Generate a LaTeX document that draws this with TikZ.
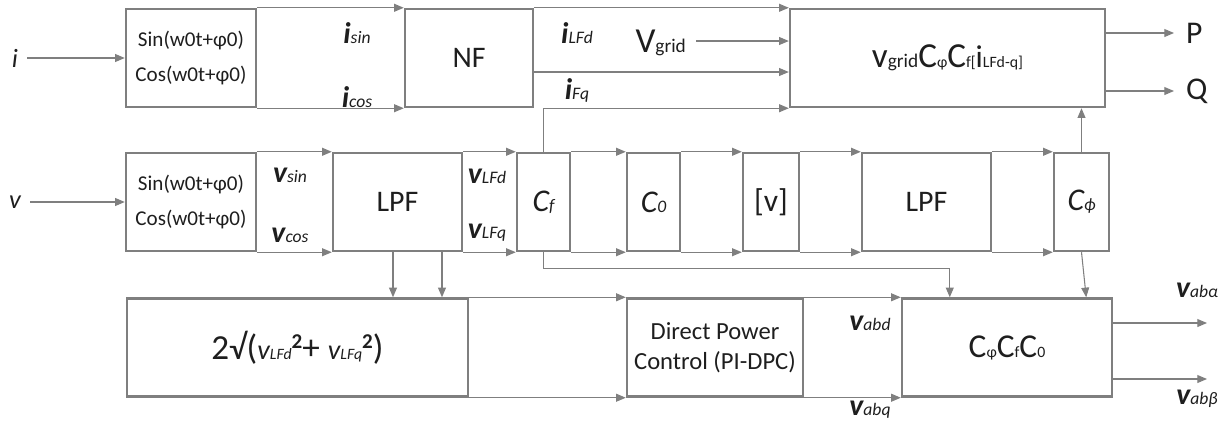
\documentclass[tikz,border=0pt]{standalone}
\usepackage{fontspec}
\setmainfont{Carlito}
\usetikzlibrary{arrows.meta}

\definecolor{lgray}{RGB}{127,127,127}
\definecolor{txt}{RGB}{30,30,30}
\newcommand{\fs}[1]{\fontsize{#1}{#1}\selectfont}
% signal label: big italic letter, small italic index on the same baseline
\newcommand{\sig}[2]{{\fs{17}\itshape\bfseries #1}{\fs{10}\itshape #2}}
\newcommand{\sq}{\raisebox{6pt}{\fs{12}\bfseries 2}}

\begin{document}
\begin{tikzpicture}[x=0.02cm,y=-0.02cm,
  blk/.style={draw=lgray, line width=1.4pt, minimum height=1.96cm, inner sep=0pt, text=txt, align=center},
  conn/.style={draw=lgray, line width=0.6pt, -{Triangle[length=5.5pt,width=4.5pt]}},
  lbl/.style={inner sep=1pt, text=txt}]
  \useasboundingbox (0,0) rectangle (1227,424);

  % top row
  \node[blk, minimum width=2.6cm, font=\fontsize{12}{20}\selectfont] (isc) at (191,58) {Sin(w0t+φ0)\\Cos(w0t+φ0)};
  \node[blk, minimum width=2.56cm] (nf) at (469,58) {\fs{17}NF};
  \node[blk, minimum width=6.3cm] (pq) at (947.5,58)
    {{\fs{20}v}{\fs{11}grid}{\fs{20}C}{\fs{9}φ}{\fs{20}C}{\fs{9}f[}{\fs{18}i}{\fs{9}LFd-q]}};

  % middle row
  \node[blk, minimum width=2.6cm, font=\fontsize{12}{20}\selectfont] (vsc) at (191,202) {Sin(w0t+φ0)\\Cos(w0t+φ0)};
  \node[blk, minimum width=2.58cm] (lpfa) at (397.5,202) {\fs{17}LPF};
  \node[blk, minimum width=1.06cm] (cf) at (543.5,202) {{\fs{18}\itshape C}{\fs{10}\itshape f}};
  \node[blk, minimum width=1.06cm] (co) at (653.5,202) {{\fs{18}\itshape C}{\fs{10}\itshape 0}};
  \node[blk, minimum width=1.12cm] (vv) at (771,202) {\fs{18}[v]};
  \node[blk, minimum width=2.58cm] (lpfb) at (926.5,202) {\fs{17}LPF};
  \node[blk, minimum width=1.1cm] (cphi) at (1081.5,202) {{\fs{18}\itshape C}{\fs{10}\itshape ϕ}};

  % bottom row
  \node[blk, minimum width=6.82cm] (sqrt) at (297.5,347.5)
    {{\fs{20}2√(}{\fs{16}\itshape v}{\fs{9}\itshape LFd}\sq{\fs{20}+ }{\fs{16}\itshape v}{\fs{9}\itshape LFq}\sq{\fs{20})}};
  \node[blk, minimum width=3.52cm, font=\fontsize{14}{17}\selectfont] (dpc) at (715,347.5) {Direct Power\\Control (PI-DPC)};
  \node[blk, minimum width=4.2cm] (cmb) at (1007,347.5)
    {{\fs{19}C}{\fs{9}φ}{\fs{19}C}{\fs{9}f}{\fs{19}C}{\fs{9}0}};

  % inputs and labels
  \node[lbl] (iin) at (15,58) {\fs{15}\itshape i};
  \node[lbl] (vin) at (15,202) {\fs{15}\itshape v};
  \node[lbl] (isin) at (357,33) {\sig{i}{sin}};
  \node[lbl] (icos) at (357,97) {\sig{i}{cos}};
  \node[lbl] (ilfd) at (577,33) {\sig{i}{LFd}};
  \node[lbl] (ifq) at (577,90) {\sig{i}{Fq}};
  \node[lbl, anchor=east] (vg) at (688,43) {{\fs{20}V}{\fs{11}grid}};
  \node[lbl] (vsin) at (290,175) {\sig{v}{sin}};
  \node[lbl] (vcos) at (290,235) {\sig{v}{cos}};
  \node[lbl] (vlfd) at (487,176) {\sig{v}{LFd}};
  \node[lbl] (vlfq) at (487,233) {\sig{v}{LFq}};
  \node[lbl] (vabd) at (870,323) {\sig{v}{abd}};
  \node[lbl] (vabq) at (870,410) {\sig{v}{abq}};
  \node[lbl] (vaba) at (1197,290) {\sig{v}{abα}};
  \node[lbl] (vabb) at (1197,399) {\sig{v}{abβ}};
  \node[lbl, anchor=west] (P) at (1184,33) {\fs{18}P};
  \node[lbl, anchor=west] (Q) at (1184,91) {\fs{18}Q};

  % block to block, upper and lower edge
  \foreach \a/\b in {isc/nf, vsc/lpfa, lpfa/cf, cf/co, co/vv, vv/lpfb, lpfb/cphi, sqrt/dpc, dpc/cmb} {
    \draw[conn] (\a.north east) -- (\b.north west);
    \draw[conn] (\a.south east) -- (\b.south west);
  }
  \draw[conn] (nf.north east) -- (pq.north west);
  \coordinate (nfo) at ([yshift=-0.28cm]nf.east);
  \draw[conn] (nfo) -- (nfo -| pq.west);
  \draw[conn] ([xshift=0.16cm,yshift=0.04cm]vg.east) -- ([yshift=0.04cm]vg.east -| pq.west);
  \draw[conn] (cf.north) |- (pq.south west);
  \draw[conn] (cphi.north) -- (cphi.north |- pq.south);
  \coordinate (pe) at ([xshift=-0.2cm]P.west);
  \coordinate (qe) at ([xshift=-0.2cm]Q.west);
  \draw[conn] (pe -| pq.east) -- (pe);
  \draw[conn] (qe -| pq.east) -- (qe);

  \draw[conn, shorten <=4pt] (iin.east) -- (isc.west);
  \draw[conn, shorten <=4pt] (vin.east) -- (vsc.west);

  \coordinate (la) at ([xshift=-0.09cm]lpfa.south);
  \coordinate (lb) at ([xshift=0.89cm]lpfa.south);
  \draw[conn] (la) -- (la |- sqrt.north);
  \draw[conn] (lb) -- (lb |- sqrt.north);
  \draw[conn] (cf.south) -- ++(0,16) -| ([xshift=0.98cm]cmb.north west);
  \draw[conn] (cphi.south) -- ([xshift=-0.54cm]cmb.north east);

  \coordinate (oa) at (1207,323);
  \coordinate (ob) at (1207,379);
  \draw[conn] (oa -| cmb.east) -- (oa);
  \draw[conn] (ob -| cmb.east) -- (ob);
\end{tikzpicture}
\end{document}
